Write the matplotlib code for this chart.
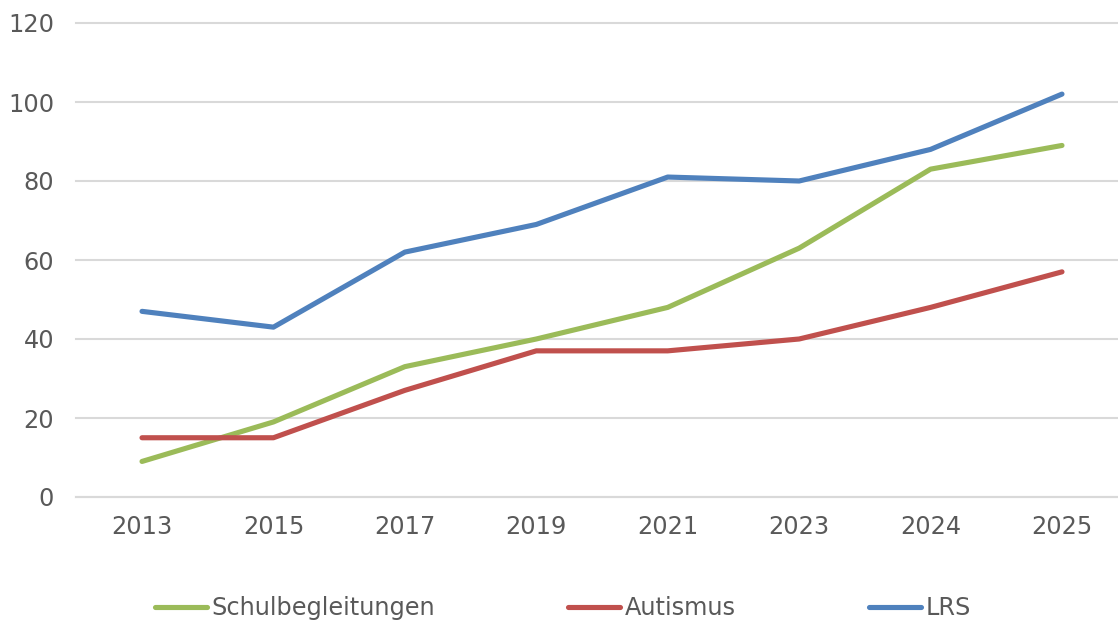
import matplotlib.pyplot as plt

# Daten
years = ['2013', '2015', '2017', '2019', '2021', '2023', '2024', '2025']
schulbegleitungen = [9, 19, 33, 40, 48, 63, 83, 89]
autismus = [15, 15, 27, 37, 37, 40, 48, 57]
lrs = [47, 43, 62, 69, 81, 80, 88, 102]

farben = {'Schulbegleitungen': '#9BBB59', 'Autismus': '#C0504D', 'LRS': '#4F81BD'}
text_farbe = '#595959'
fs = 17.3

fig = plt.figure(figsize=(11.18, 6.21), dpi=100)
ax = fig.add_axes([76.3 / 1118, 124 / 621, 1051.4 / 1118, 474 / 621])

x = list(range(len(years)))
ax.plot(x, schulbegleitungen, color=farben['Schulbegleitungen'], lw=3.7,
        solid_capstyle='round', label='Schulbegleitungen', zorder=3)
ax.plot(x, autismus, color=farben['Autismus'], lw=3.7,
        solid_capstyle='round', label='Autismus', zorder=3)
ax.plot(x, lrs, color=farben['LRS'], lw=3.7,
        solid_capstyle='round', label='LRS', zorder=3)

ax.set_xlim(-0.5, 7.5)
ax.set_ylim(0, 120)
ax.set_yticks(range(0, 121, 20))
ax.set_xticks(x)
ax.set_xticklabels(years)
ax.grid(axis='y', color='#D9D9D9', lw=1.5)
for gl in ax.get_ygridlines():
    gl.set_clip_on(False)
ax.set_axisbelow(True)
for s in ['top', 'right', 'left']:
    ax.spines[s].set_visible(False)
ax.spines['bottom'].set_color('#D9D9D9')
ax.spines['bottom'].set_linewidth(1.5)
ax.tick_params(axis='both', length=0, labelsize=fs, colors=text_farbe)
ax.tick_params(axis='y', pad=16)
ax.tick_params(axis='x', pad=13)

fig.legend(loc='center left', bbox_to_anchor=(155 / 1118, 1 - 608 / 621), ncol=3,
           frameon=False, fontsize=fs, labelcolor=text_farbe,
           handlelength=2.15, handletextpad=0.2, columnspacing=5.55,
           borderpad=0, borderaxespad=0)

fig.savefig('out.png', dpi=100)
